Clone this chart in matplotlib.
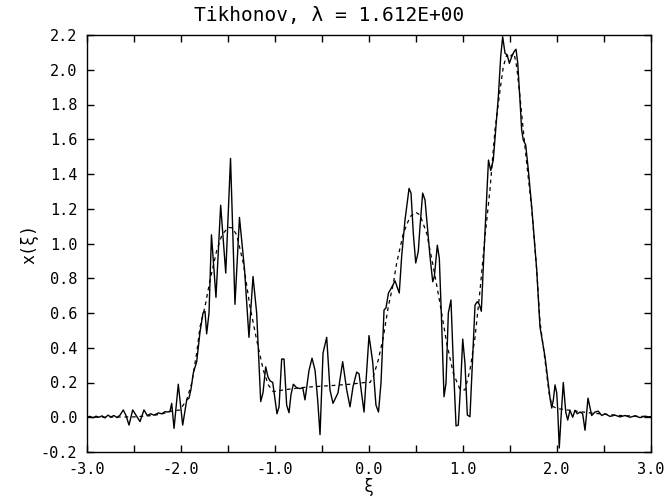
import matplotlib
matplotlib.use("Agg")
import matplotlib.pyplot as plt
from matplotlib.ticker import MultipleLocator, FormatStrFormatter

# Regularised (noisy) reconstruction
xi_reg = [-3.000, -2.968, -2.936, -2.904, -2.872, -2.840, -2.809, -2.777, -2.745, -2.713,
          -2.681, -2.649, -2.614, -2.585, -2.553, -2.514, -2.471, -2.436, -2.394, -2.359,
          -2.322, -2.287, -2.241, -2.205, -2.170, -2.138, -2.117, -2.099, -2.074, -2.029,
          -1.982, -1.939, -1.915, -1.894, -1.869, -1.833, -1.798, -1.766, -1.745, -1.727,
          -1.702, -1.676, -1.628, -1.578, -1.524, -1.473, -1.426, -1.378, -1.324, -1.277,
          -1.234, -1.195, -1.152, -1.128, -1.099, -1.074, -1.053, -1.024, -0.979, -0.957,
          -0.929, -0.904, -0.876, -0.851, -0.830, -0.805, -0.769, -0.734, -0.705, -0.681,
          -0.638, -0.606, -0.574, -0.546, -0.521, -0.489, -0.450, -0.415, -0.383, -0.330,
          -0.280, -0.237, -0.202, -0.170, -0.131, -0.106, -0.053, 0.000, 0.039, 0.074,
          0.101, 0.128, 0.160, 0.181, 0.207, 0.234, 0.277, 0.322, 0.348, 0.383,
          0.426, 0.447, 0.471, 0.497, 0.524, 0.543, 0.571, 0.596, 0.620, 0.649,
          0.678, 0.695, 0.727, 0.748, 0.773, 0.798, 0.819, 0.844, 0.872, 0.897,
          0.926, 0.950, 0.976, 0.997, 1.021, 1.046, 1.074, 1.103, 1.128, 1.152,
          1.173, 1.195, 1.216, 1.245, 1.271, 1.295, 1.322, 1.340, 1.376, 1.401,
          1.422, 1.447, 1.471, 1.493, 1.518, 1.543, 1.564, 1.582, 1.606, 1.624,
          1.641, 1.667, 1.695, 1.731, 1.784, 1.819, 1.872, 1.907, 1.926, 1.944,
          1.961, 1.979, 1.997, 2.007, 2.024, 2.043, 2.067, 2.093, 2.114, 2.138,
          2.167, 2.191, 2.216, 2.245, 2.273, 2.298, 2.330, 2.369, 2.404, 2.439,
          2.476, 2.511, 2.564, 2.617, 2.670, 2.723, 2.777, 2.830, 2.883, 2.936,
          3.000]
x_reg = [0.000, 0.005, -0.003, 0.006, 0.000, 0.008, -0.004, 0.012, 0.002, 0.010,
         -0.002, 0.012, 0.042, 0.010, -0.045, 0.042, 0.005, -0.025, 0.042, 0.010,
         0.020, 0.012, 0.025, 0.020, 0.032, 0.030, 0.035, 0.080, -0.064, 0.190,
         -0.045, 0.100, 0.110, 0.160, 0.255, 0.320, 0.490, 0.600, 0.610, 0.480,
         0.600, 1.050, 0.690, 1.220, 0.830, 1.490, 0.650, 1.150, 0.850, 0.460,
         0.810, 0.600, 0.090, 0.140, 0.290, 0.230, 0.210, 0.200, 0.020, 0.060,
         0.335, 0.335, 0.070, 0.026, 0.130, 0.190, 0.170, 0.165, 0.170, 0.100,
         0.270, 0.340, 0.270, 0.100, -0.100, 0.370, 0.460, 0.157, 0.080, 0.140,
         0.320, 0.157, 0.060, 0.176, 0.260, 0.250, 0.030, 0.470, 0.320, 0.070,
         0.030, 0.200, 0.617, 0.630, 0.715, 0.740, 0.785, 0.715, 0.930, 1.135,
         1.317, 1.290, 1.060, 0.888, 0.953, 1.100, 1.290, 1.250, 1.100, 0.925,
         0.780, 0.810, 0.990, 0.915, 0.540, 0.118, 0.195, 0.600, 0.675, 0.310,
         -0.050, -0.045, 0.200, 0.450, 0.310, 0.013, 0.003, 0.350, 0.646, 0.665,
         0.650, 0.610, 0.866, 1.183, 1.480, 1.420, 1.480, 1.600, 1.845, 2.075,
         2.190, 2.095, 2.085, 2.037, 2.075, 2.104, 2.118, 2.040, 1.826, 1.653,
         1.596, 1.567, 1.423, 1.210, 0.850, 0.520, 0.350, 0.195, 0.110, 0.053,
         0.100, 0.186, 0.140, 0.050, -0.177, 0.000, 0.200, 0.030, -0.016, 0.040,
         0.000, 0.040, 0.020, 0.030, 0.020, -0.075, 0.110, 0.010, 0.030, 0.035,
         0.010, 0.020, 0.005, 0.012, 0.002, 0.010, 0.000, 0.008, -0.002, 0.006,
         0.000]

# Exact profile
xi_true = [-3.000, -2.500, -2.300, -2.200, -2.100, -2.011, -1.939, -1.886, -1.833, -1.798,
           -1.745, -1.691, -1.620, -1.564, -1.497, -1.457, -1.407, -1.337, -1.266, -1.195,
           -1.124, -1.071, -1.018, -0.912, -0.734, -0.556, -0.380, -0.202, -0.043, 0.011,
           0.046, 0.099, 0.152, 0.205, 0.259, 0.294, 0.365, 0.436, 0.497, 0.543,
           0.614, 0.684, 0.755, 0.827, 0.897, 0.968, 1.021, 1.074, 1.128, 1.181,
           1.234, 1.287, 1.340, 1.394, 1.429, 1.465, 1.493, 1.518, 1.543, 1.571,
           1.606, 1.641, 1.678, 1.731, 1.784, 1.819, 1.872, 1.915, 1.947, 2.000,
           2.138, 2.351, 2.670, 3.000]
x_true = [0.000, 0.002, 0.010, 0.020, 0.035, 0.042, 0.100, 0.197, 0.370, 0.520,
          0.636, 0.790, 0.960, 1.050, 1.093, 1.090, 1.050, 0.886, 0.636, 0.445,
          0.270, 0.186, 0.147, 0.157, 0.170, 0.177, 0.183, 0.190, 0.200, 0.200,
          0.235, 0.330, 0.460, 0.636, 0.770, 0.886, 1.058, 1.154, 1.180, 1.164,
          1.058, 0.866, 0.656, 0.425, 0.253, 0.160, 0.157, 0.272, 0.460, 0.730,
          1.040, 1.310, 1.653, 1.883, 2.018, 2.085, 2.070, 2.085, 2.095, 2.018,
          1.845, 1.653, 1.460, 1.200, 0.850, 0.550, 0.330, 0.140, 0.065, 0.050,
          0.040, 0.025, 0.010, 0.003]

lam = 1.612

mono = "DejaVu Sans Mono"
fig = plt.figure(figsize=(6.67, 5.03), dpi=100)
ax = fig.add_axes([87 / 667, 1 - 452 / 503, (651 - 87) / 667, (452 - 35) / 503])

ax.plot(xi_reg, x_reg, color="black", lw=1.0)
ax.plot(xi_true, x_true, color="black", lw=0.9, linestyle=(0, (3, 3)))

ax.set_xlim(-3.0, 3.0)
ax.set_ylim(-0.2, 2.2)
ax.xaxis.set_major_locator(MultipleLocator(1.0))
ax.xaxis.set_minor_locator(MultipleLocator(0.5))
ax.yaxis.set_major_locator(MultipleLocator(0.2))
ax.xaxis.set_major_formatter(FormatStrFormatter("%.1f"))
ax.yaxis.set_major_formatter(FormatStrFormatter("%.1f"))
ax.tick_params(which="both", direction="in", top=True, right=True,
               length=5, width=1.0, color="black")
ax.tick_params(axis="x", which="major", pad=7)
ax.tick_params(axis="y", which="major", pad=7)
for lbl in ax.get_xticklabels() + ax.get_yticklabels():
    lbl.set_fontfamily(mono)
    lbl.set_fontsize(11)
for s in ax.spines.values():
    s.set_linewidth(1.0)

# Title sits a little left of the axes centre
fig.text(329 / 667, 1 - 15 / 503, f"Tikhonov, \u03bb = {lam:.3E}",
         fontfamily=mono, fontsize=14, ha="center", va="center")
ax.set_xlabel("\u03be", fontfamily=mono, fontsize=12)
ax.xaxis.set_label_coords(0.5, -(478 - 452) / 417)
ax.set_ylabel("x(\u03be)", fontfamily=mono, fontsize=12)
ax.yaxis.set_label_coords(-(87 - 38) / 564, 0.5)

fig.savefig("out.png", dpi=100)
